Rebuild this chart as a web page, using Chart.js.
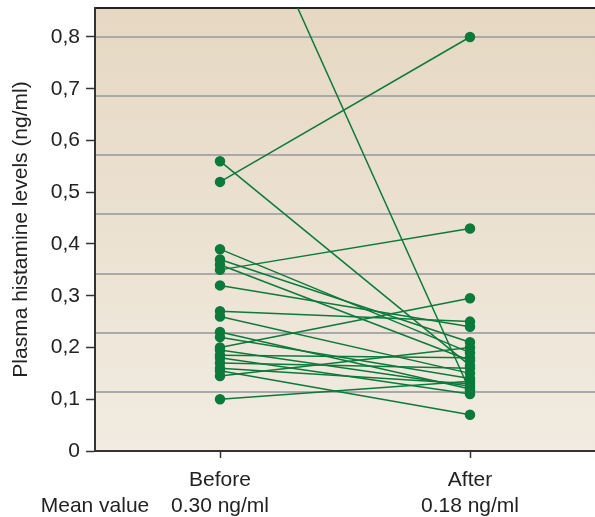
<!DOCTYPE html>
<html>
<head>
<meta charset="utf-8">
<script src="https://cdn.jsdelivr.net/npm/chart.js@4.4.1/dist/chart.umd.min.js"></script>
<style>
  html, body { margin: 0; padding: 0; background: #fff; }
  #wrap { width: 595px; height: 517px; }
</style>
</head>
<body>
<div id="wrap"><canvas id="histChart" width="595" height="517"></canvas></div>
<script>
// histamine (ng/ml) per subject, before and after
const groups = ["Before", "After"];
const meanValues = ["0.30 ng/ml", "0.18 ng/ml"];
const before = [1.19, 0.56, 0.52, 0.39, 0.37, 0.36, 0.35, 0.32, 0.27, 0.26, 0.23,
    0.22, 0.20, 0.195, 0.185, 0.18, 0.17, 0.16, 0.155, 0.145, 0.10];
const after = [0.116, 0.165, 0.80, 0.19, 0.21, 0.175, 0.43, 0.24, 0.25, 0.15, 0.12,
    0.14, 0.295, 0.125, 0.18, 0.11, 0.16, 0.13, 0.07, 0.20, 0.135];
const yTicks = [0, 0.1, 0.2, 0.3, 0.4, 0.5, 0.6, 0.7, 0.8];

const green = "#0b7a3b";
const font = { family: "'Liberation Sans', Arial, sans-serif", size: 21 };

// one short line per subject
const datasets = before.map((b, i) => ({
    data: [{ x: 1, y: b }, { x: 3, y: after[i] }],
    showLine: true,
    borderColor: green,
    backgroundColor: green,
    borderWidth: 1.5,
    pointRadius: 4.5,
    pointHoverRadius: 4.5,
}));

// beige gradient behind the plot
const background = {
    id: "background",
    beforeDraw(chart) {
        const { ctx, chartArea: a } = chart;
        const g = ctx.createLinearGradient(0, a.top, 0, a.bottom);
        g.addColorStop(0, "#e6d8c2");
        g.addColorStop(1, "#f1ebe1");
        ctx.save();
        ctx.fillStyle = g;
        ctx.fillRect(a.left, a.top, a.right - a.left, a.bottom - a.top);
        ctx.restore();
    },
};

const noPad = s => { s.paddingLeft = 0; s.paddingRight = 0; s.paddingTop = 0; s.paddingBottom = 0; };

new Chart(document.getElementById("histChart"), {
    type: "scatter",
    data: { datasets },
    plugins: [background],
    options: {
        responsive: false,
        animation: false,
        layout: { autoPadding: false, padding: { top: 8, right: 0, left: 0, bottom: 0 } },
        plugins: { legend: { display: false }, tooltip: { enabled: false } },
        scales: {
            x: {
                type: "linear",
                min: 0,
                max: 4,
                afterBuildTicks: s => { s.ticks = [0, 1, 3].map(v => ({ value: v })); },
                afterFit: s => { s.height = 66; noPad(s); },
                ticks: {
                    font,
                    color: "#222",
                    padding: 10,
                    maxRotation: 0,
                    autoSkip: false,
                    callback: v => v === 0 ? ["", "Mean value"] : [groups[(v - 1) / 2], meanValues[(v - 1) / 2]],
                },
                grid: {
                    drawOnChartArea: false,
                    tickLength: 7,
                    tickWidth: 1.5,
                    tickColor: c => (c.tick && c.tick.value === 0) ? "rgba(0,0,0,0)" : "#333",
                },
                border: { color: "#333", width: 2 },
            },
            top: {
                type: "linear",
                position: "top",
                min: 0,
                max: 4,
                afterFit: s => { s.height = 0; noPad(s); },
                ticks: { display: false },
                grid: { display: false },
                border: { color: "#222", width: 2 },
            },
            y: {
                type: "linear",
                min: 0,
                max: 0.856,
                afterBuildTicks: s => { s.ticks = yTicks.map(v => ({ value: v })); },
                afterFit: s => { s.width = 95; noPad(s); },
                ticks: {
                    font,
                    color: "#222",
                    padding: 6,
                    callback: v => v === 0 ? "0" : v.toFixed(1).replace(".", ","),
                },
                grid: { drawOnChartArea: false, tickLength: 9, tickWidth: 1.5, tickColor: "#333" },
                border: { color: "#333", width: 2 },
                title: {
                    display: true,
                    text: "Plasma histamine levels (ng/ml)",
                    font,
                    color: "#222",
                    padding: { top: 9, bottom: 0 },
                },
            },
            grid: {
                type: "linear",
                position: "left",
                min: 0,
                max: 7.49,
                afterBuildTicks: s => { s.ticks = [1, 2, 3, 4, 5, 6, 7].map(v => ({ value: v })); },
                afterFit: s => { s.width = 0; noPad(s); },
                ticks: { display: false },
                grid: { color: "#a9a9a9", lineWidth: 2, drawTicks: false },
                border: { display: false },
            },
        },
    },
});
</script>
</body>
</html>
